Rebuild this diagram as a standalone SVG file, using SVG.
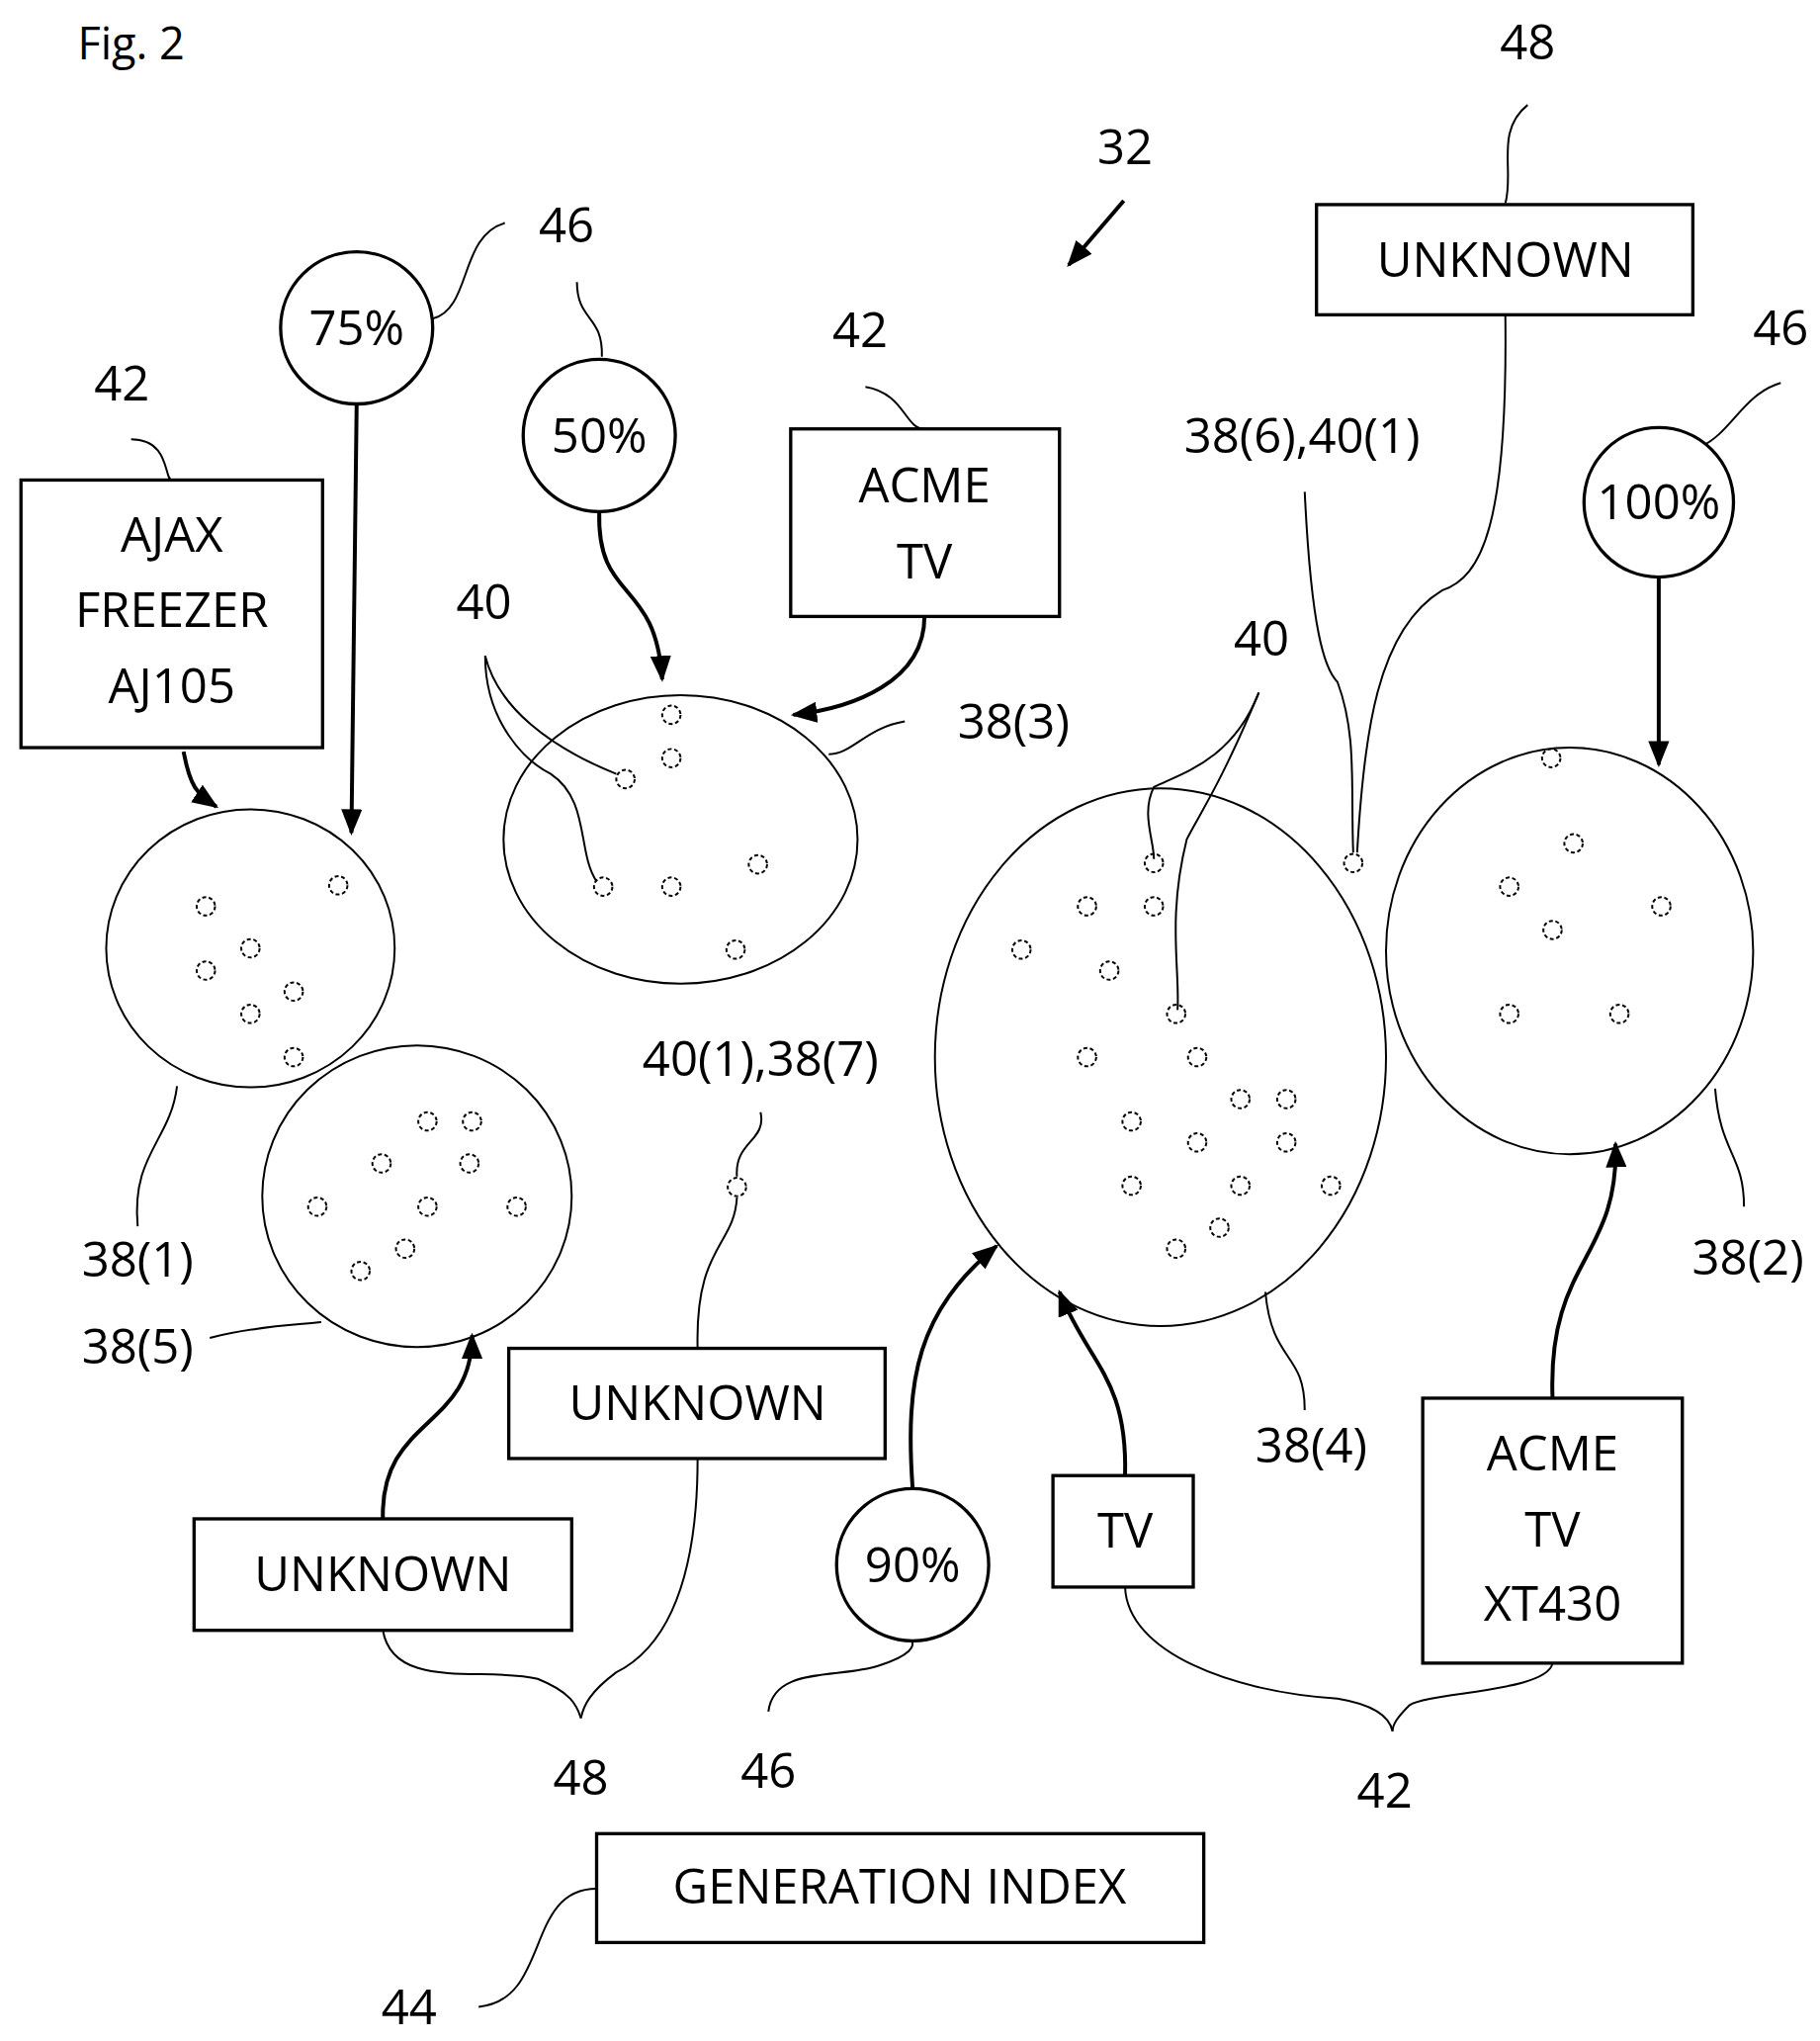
<svg xmlns="http://www.w3.org/2000/svg" width="1841" height="2064" viewBox="0 0 1841 2064">
<style>
text{font-family:"Open Sans","Liberation Sans",sans-serif;font-size:37px;fill:#000;text-anchor:middle}
.b{fill:#fff;stroke:#000;stroke-width:2.5}
.c{fill:none;stroke:#000;stroke-width:1.5}
.l{fill:none;stroke:#000;stroke-width:1.5}
.a{fill:none;stroke:#000;stroke-width:3}
.d{fill:none;stroke:#000;stroke-width:1.5;stroke-dasharray:3 2}
</style>
<defs>
<marker id="ah2" markerWidth="20" markerHeight="16" refX="18" refY="8" orient="auto" markerUnits="userSpaceOnUse"><path d="M0,0L20,8L0,16z"/></marker></defs>
<rect width="1841" height="2064" fill="#fff"/>
<g transform="scale(1.3264)">
<text x="100" y="45" style="font-size:34px">Fig. 2</text>
<g id="connectors">
<path class="l" d="M857,153L815,202" marker-end="url(#ah2)" style="stroke-width:3"/>
<path class="l" d="M1165,80C1140,100 1155,130 1148,155"/>
<path class="l" d="M1358,292C1330,300 1320,330 1298,340"/>
<path class="l" d="M995,375C1000,480 1010,510 1020,520C1035,560 1030,600 1032,650"/>
<path class="l" d="M1148,240C1150,400 1130,440 1100,450C1050,480 1040,560 1035,650"/>
<path class="l" d="M1308,830C1312,880 1330,880 1330,920"/>
<path class="l" d="M960,528C940,580 900,590 880,600C870,620 880,640 880,655"/>
<path class="l" d="M960,528C930,600 915,620 905,640C890,700 900,740 898,770"/>
<path class="l" d="M965,985C970,1040 995,1030 995,1075"/>
<path class="l" d="M858,1210C860,1260 940,1290 1020,1295C1050,1300 1060,1310 1062,1320"/>
<path class="l" d="M1184,1268C1180,1290 1090,1290 1075,1300C1065,1310 1062,1315 1062,1320"/>
<path class="l" d="M586,1305C590,1270 640,1280 670,1270C695,1262 698,1255 695,1250"/>
<path class="l" d="M365,1530C420,1525 400,1440 455,1440"/>
<path class="l" d="M292,1243C300,1290 370,1270 410,1280C435,1290 440,1300 443,1310"/>
<path class="l" d="M532,1112C532,1220 500,1260 470,1275C450,1290 445,1300 443,1310"/>
<path class="l" d="M532,1028C530,950 560,950 562,913"/>
<path class="l" d="M580,848C585,870 560,870 562,897"/>
<path class="l" d="M160,1020C200,1010 230,1010 245,1008"/>
<path class="l" d="M105,935C100,880 130,870 135,828"/>
<path class="l" d="M100,335C130,335 125,366 131,366"/>
<path class="l" d="M385,170C350,180 360,235 330,243"/>
<path class="l" d="M459,272C460,240 440,245 440,215"/>
<path class="l" d="M660,295C690,300 690,327 705,327"/>
<path class="l" d="M370,500C380,540 420,570 470,590"/>
<path class="l" d="M370,500C370,550 400,580 420,590C450,610 440,650 455,672"/>
<path class="l" d="M690,550C660,555 650,575 632,575"/>
<path class="a" d="M1265,440L1265,583" marker-end="url(#ah2)"/>
<path class="a" d="M1184,1066C1180,960 1235,960 1232,872" marker-end="url(#ah2)"/>
<path class="a" d="M858,1125C860,1050 830,1040 808,985" marker-end="url(#ah2)"/>
<path class="a" d="M696,1135C690,1050 700,1000 760,950" marker-end="url(#ah2)"/>
<path class="a" d="M292,1158C290,1080 360,1090 360,1018" marker-end="url(#ah2)"/>
<path class="a" d="M140,573C145,600 150,605 165,615" marker-end="url(#ah2)"/>
<path class="a" d="M272,308L268,635" marker-end="url(#ah2)"/>
<path class="a" d="M457,390C455,460 500,440 505,518" marker-end="url(#ah2)"/>
<path class="a" d="M705,470C705,520 650,540 605,545" marker-end="url(#ah2)"/>
</g>
<g id="n_unknown_top"><rect class="b" x="1004" y="156" width="287" height="84"/><text x="1148" y="211">UNKNOWN</text></g>
<g id="n_100"><circle class="b" cx="1265" cy="383" r="57"/><text x="1265" y="396">100%</text></g>
<g id="n_38_2"><ellipse class="c" cx="1197" cy="725" rx="140" ry="155"/></g>
<g id="n_acme_xt"><rect class="b" x="1085" y="1066" width="198" height="202"/><text x="1184" y="1121">ACME</text><text x="1184" y="1179">TV</text><text x="1184" y="1236">XT430</text></g>
<g id="n_38_4"><ellipse class="c" cx="885" cy="806" rx="172" ry="205"/></g>
<g id="n_tv"><rect class="b" x="803" y="1125" width="107" height="85"/><text x="858" y="1180">TV</text></g>
<g id="n_90"><circle class="b" cx="696" cy="1193" r="58"/><text x="696" y="1206">90%</text></g>
<g id="n_gen"><rect class="b" x="455" y="1398" width="463" height="83"/><text x="686" y="1451">GENERATION INDEX</text></g>
<g id="n_unknown_mid"><rect class="b" x="388" y="1028" width="287" height="84"/><text x="532" y="1083">UNKNOWN</text></g>
<g id="n_unknown_low"><rect class="b" x="148" y="1158" width="288" height="85"/><text x="292" y="1213">UNKNOWN</text></g>
<g id="n_38_5"><ellipse class="c" cx="318" cy="912" rx="118" ry="115"/></g>
<g id="n_38_1"><ellipse class="c" cx="191" cy="723" rx="110" ry="106"/></g>
<g id="n_ajax"><rect class="b" x="16" y="366" width="230" height="204"/><text x="131" y="421">AJAX</text><text x="131" y="478">FREEZER</text><text x="131" y="536">AJ105</text></g>
<g id="n_75"><circle class="b" cx="272" cy="250" r="58"/><text x="272" y="263">75%</text></g>
<g id="n_50"><circle class="b" cx="457" cy="332" r="58"/><text x="457" y="345">50%</text></g>
<g id="n_acme"><rect class="b" x="603" y="327" width="205" height="143"/><text x="705" y="383">ACME</text><text x="705" y="441">TV</text></g>
<g id="n_38_3"><ellipse class="c" cx="519" cy="640" rx="135" ry="110"/></g>
<g id="dots">
<g class="d">
<circle cx="1183" cy="578" r="7"/><circle cx="1200" cy="643" r="7"/><circle cx="1151" cy="676" r="7"/><circle cx="1267" cy="691" r="7"/><circle cx="1184" cy="709" r="7"/><circle cx="1151" cy="773" r="7"/><circle cx="1235" cy="773" r="7"/>
<circle cx="1032" cy="658" r="7"/><circle cx="562" cy="905" r="7"/>
<circle cx="880" cy="658" r="7"/><circle cx="880" cy="691" r="7"/><circle cx="829" cy="691" r="7"/><circle cx="779" cy="724" r="7"/><circle cx="846" cy="740" r="7"/><circle cx="897" cy="773" r="7"/><circle cx="829" cy="806" r="7"/><circle cx="913" cy="806" r="7"/><circle cx="946" cy="838" r="7"/><circle cx="981" cy="838" r="7"/><circle cx="863" cy="855" r="7"/><circle cx="913" cy="871" r="7"/><circle cx="981" cy="871" r="7"/><circle cx="1015" cy="904" r="7"/><circle cx="863" cy="904" r="7"/><circle cx="946" cy="904" r="7"/><circle cx="930" cy="936" r="7"/><circle cx="897" cy="952" r="7"/>
<circle cx="326" cy="855" r="7"/><circle cx="360" cy="855" r="7"/><circle cx="291" cy="887" r="7"/><circle cx="358" cy="887" r="7"/><circle cx="242" cy="920" r="7"/><circle cx="326" cy="920" r="7"/><circle cx="394" cy="920" r="7"/><circle cx="309" cy="952" r="7"/><circle cx="275" cy="969" r="7"/>
<circle cx="157" cy="691" r="7"/><circle cx="258" cy="675" r="7"/><circle cx="191" cy="723" r="7"/><circle cx="157" cy="740" r="7"/><circle cx="224" cy="756" r="7"/><circle cx="191" cy="773" r="7"/><circle cx="224" cy="806" r="7"/>
<circle cx="512" cy="545" r="7"/><circle cx="512" cy="578" r="7"/><circle cx="477" cy="594" r="7"/><circle cx="460" cy="676" r="7"/><circle cx="512" cy="676" r="7"/><circle cx="578" cy="659" r="7"/><circle cx="561" cy="724" r="7"/>
</g></g>
<g id="labels">
<text x="858" y="125">32</text>
<text x="1165" y="45">48</text>
<text x="1358" y="263">46</text>
<text x="993" y="345">38(6),40(1)</text>
<text x="1333" y="972">38(2)</text>
<text x="962" y="500">40</text>
<text x="1000" y="1115">38(4)</text>
<text x="1056" y="1378">42</text>
<text x="586" y="1363">46</text>
<text x="312" y="1543">44</text>
<text x="443" y="1368">48</text>
<text x="580" y="820">40(1),38(7)</text>
<text x="105" y="1040">38(5)</text>
<text x="105" y="973">38(1)</text>
<text x="93" y="305">42</text>
<text x="432" y="185">46</text>
<text x="656" y="265">42</text>
<text x="369" y="472">40</text>
<text x="773" y="563">38(3)</text>
</g>
</g>
</svg>
